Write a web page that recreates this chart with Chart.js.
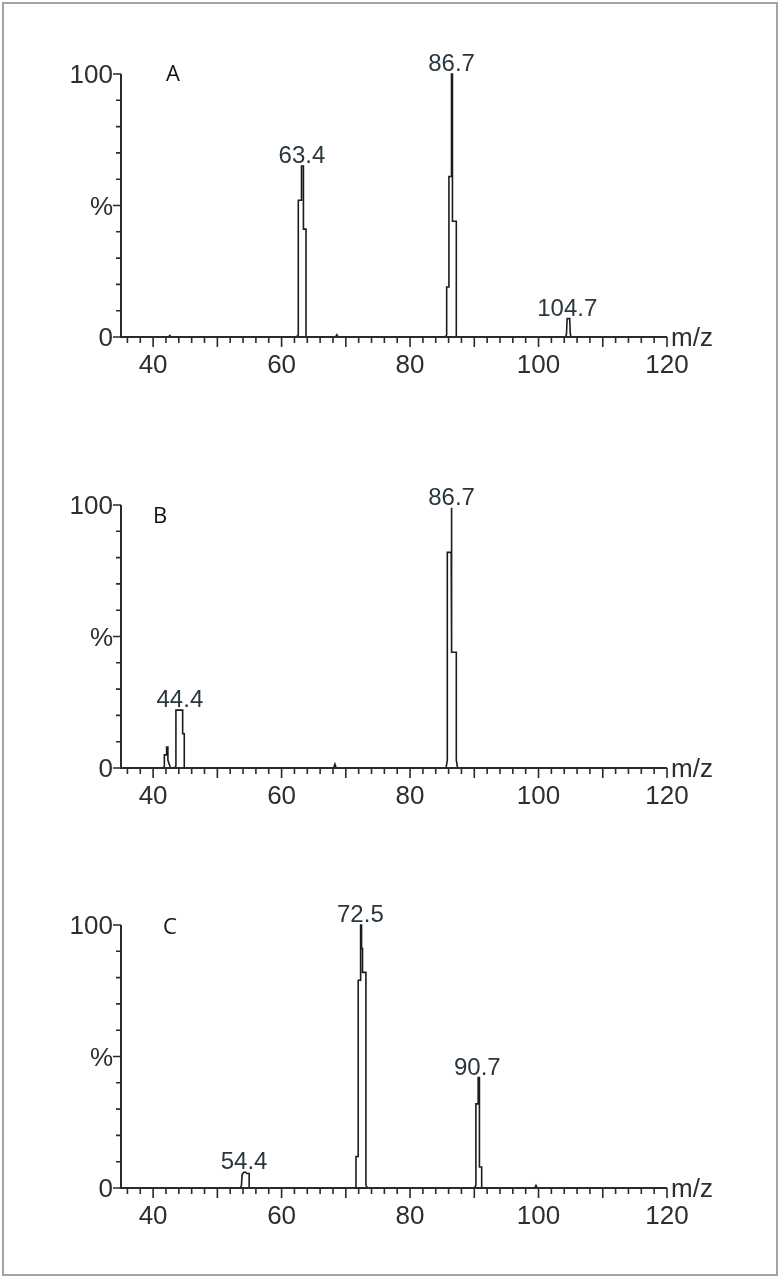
<!DOCTYPE html>
<html>
<head>
<meta charset="utf-8">
<script src="https://cdn.jsdelivr.net/npm/chart.js@4.4.1/dist/chart.umd.min.js"></script>
<style>
  body { margin: 0; background: #fff; }
  #frame { position: absolute; left: 2px; top: 2px; width: 772px; height: 1270px; border: 2px solid #a3a3a3; }
  .panel { position: absolute; left: 0; width: 781px; height: 380px; }
</style>
</head>
<body>
<div id="frame"></div>
<div class="panel" style="top:20px"><canvas id="specA"></canvas></div>
<div class="panel" style="top:451px"><canvas id="specB"></canvas></div>
<div class="panel" style="top:871px"><canvas id="specC"></canvas></div>
<script>
// axis
const xTickLabels = [40, 60, 80, 100, 120];
const yTickLabels = { 0: '0', 50: '%', 100: '100' };

// spectrum A (profile outline, m/z vs relative intensity %)
const mzA  = [42.4, 42.6, 42.8, 62.3, 62.6, 62.6, 63.1, 63.1, 63.4, 63.4, 63.8, 63.8, 68.4, 68.6, 68.8,
              85.5, 85.7, 85.7, 86.05, 86.05, 86.45, 86.45, 86.6, 86.6, 87.2, 87.2,
              104.2, 104.35, 104.45, 104.85, 104.95, 105.1];
const intA = [0, 0.6, 0, 0, 0.8, 52, 52, 65, 65, 41, 41, 0, 0, 0.8, 0,
              0, 0.8, 19, 19, 61, 61, 100, 100, 44, 44, 0,
              0, 1, 7, 7, 1, 0];
const peakA    = [63.4, 86.7, 104.7];
const peakTopA = [65, 100, 7];

// spectrum B
const mzB  = [41.6, 41.75, 41.75, 42.1, 42.1, 42.3, 42.3, 42.7, 43.3, 43.55, 43.55, 44.6, 44.6, 44.85, 44.85,
              68.1, 68.3, 68.5,
              85.6, 85.8, 85.8, 86.4, 86.4, 86.5, 86.5, 87.2, 87.2, 87.4];
const intB = [0, 0.8, 5, 5, 8, 8, 3, 0, 0, 0.8, 22, 22, 13, 13, 0,
              0, 1.5, 0,
              0, 3, 82, 82, 99, 95, 44, 44, 3, 0];
const peakB    = [44.4, 86.7];
const peakTopB = [22, 99];

// spectrum C
const mzC  = [53.6, 53.75, 53.85, 54.1, 54.4, 54.6, 54.95, 54.95,
              71.4, 71.58, 71.58, 71.93, 71.93, 72.3, 72.3, 72.45, 72.45, 72.6, 72.6, 73.13, 73.13, 73.4,
              90.0, 90.25, 90.25, 90.6, 90.6, 90.8, 90.8, 91.15, 91.15,
              99.4, 99.6, 99.8];
const intC = [0, 1, 5, 6, 6, 5.5, 5.5, 0,
              0, 0.5, 12, 12, 79, 79, 100, 100, 91, 91, 82, 82, 1, 0,
              0, 1, 32, 32, 42, 42, 8, 8, 0,
              0, 1, 0];
const peakC    = [54.4, 72.5, 90.7];
const peakTopC = [6, 100, 42];

const minorX = [];
for (let v = 36; v <= 120; v += 2) minorX.push(v);

const axisFont = 'Liberation Sans, Arial, sans-serif';

const spectrumDecor = {
  id: 'spectrumDecor',
  afterDraw(chart, args, opts) {
    const ctx = chart.ctx, xs = chart.scales.x, ys = chart.scales.y;
    const x0 = xs.getPixelForValue(35), x1 = xs.getPixelForValue(120);
    const y0 = ys.getPixelForValue(0), y1 = ys.getPixelForValue(100);
    ctx.save();
    ctx.strokeStyle = '#2a2a2a';
    ctx.lineWidth = 2;
    ctx.beginPath();
    ctx.moveTo(x0, y1); ctx.lineTo(x0, y0); ctx.lineTo(x1, y0);
    ctx.stroke();

    ctx.lineWidth = 1.6;
    ctx.beginPath();
    minorX.forEach(v => {
      const px = xs.getPixelForValue(v);
      ctx.moveTo(px, y0);
      ctx.lineTo(px, y0 + (v % 10 === 0 ? 10 : 6));
    });
    for (let v = 0; v <= 100; v += 10) {
      const py = ys.getPixelForValue(v);
      ctx.moveTo(x0, py);
      ctx.lineTo(x0 - (v % 50 === 0 ? 8 : 5), py);
    }
    ctx.stroke();

    // y labels
    ctx.fillStyle = '#2e2e2e';
    ctx.font = '26px ' + axisFont;
    ctx.textAlign = 'right';
    ctx.textBaseline = 'middle';
    Object.keys(yTickLabels).forEach(k => {
      ctx.fillText(yTickLabels[k], x0 - 8, ys.getPixelForValue(+k) + 2);
    });

    // m/z
    ctx.textAlign = 'left';
    ctx.fillText('m/z', x1 + 4, y0 + 2);

    // peak labels
    ctx.fillStyle = '#29373f';
    ctx.font = '24px ' + axisFont;
    ctx.textAlign = 'center';
    ctx.textBaseline = 'alphabetic';
    opts.peaks.forEach((p, i) => {
      ctx.fillText(p.toFixed(1), xs.getPixelForValue(p) - 1.5, ys.getPixelForValue(opts.tops[i]) - 3);
    });

    // panel letter
    ctx.fillStyle = '#111';
    ctx.font = '22px "Open Sans", sans-serif';
    ctx.textBaseline = 'middle';
    ctx.fillText(opts.letter, xs.getPixelForValue(opts.letterAt[0]), ys.getPixelForValue(opts.letterAt[1]));
    ctx.restore();
  }
};

function makeSpectrum(id, mz, intensity, peaks, tops, letter, letterAt) {
  new Chart(document.getElementById(id), {
    type: 'line',
    data: {
      datasets: [{
        data: mz.map((m, i) => ({ x: m, y: intensity[i] })),
        borderColor: '#1c1c1c',
        borderWidth: 1.6,
        pointRadius: 0,
        tension: 0,
        fill: false,
        clip: false
      }]
    },
    options: {
      responsive: true,
      maintainAspectRatio: false,
      animation: false,
      events: [],
      layout: { padding: { top: 54, right: 114, left: 0, bottom: 0 } },
      plugins: {
        legend: { display: false },
        tooltip: { enabled: false },
        spectrumDecor: { peaks, tops, letter, letterAt }
      },
      scales: {
        x: {
          type: 'linear', min: 35, max: 120,
          grid: { display: false, drawTicks: false },
          border: { display: false },
          afterBuildTicks: s => { s.ticks = minorX.map(v => ({ value: v })); },
          afterFit: s => { s.height = 63; },
          ticks: {
            autoSkip: false, maxRotation: 0, padding: 13,
            color: '#2e2e2e', font: { family: axisFont, size: 26 },
            callback: v => xTickLabels.includes(v) ? String(v) : ''
          }
        },
        y: {
          min: 0, max: 100,
          grid: { display: false, drawTicks: false },
          border: { display: false },
          afterFit: s => { s.width = 121; },
          ticks: { display: false, stepSize: 10 }
        }
      }
    },
    plugins: [spectrumDecor]
  });
}

makeSpectrum('specA', mzA, intA, peakA, peakTopA, 'A', [43.1, 99.6]);
makeSpectrum('specB', mzB, intB, peakB, peakTopB, 'B', [41.1, 95.4]);
makeSpectrum('specC', mzC, intC, peakC, peakTopC, 'C', [42.6, 98.9]);
</script>
</body>
</html>
